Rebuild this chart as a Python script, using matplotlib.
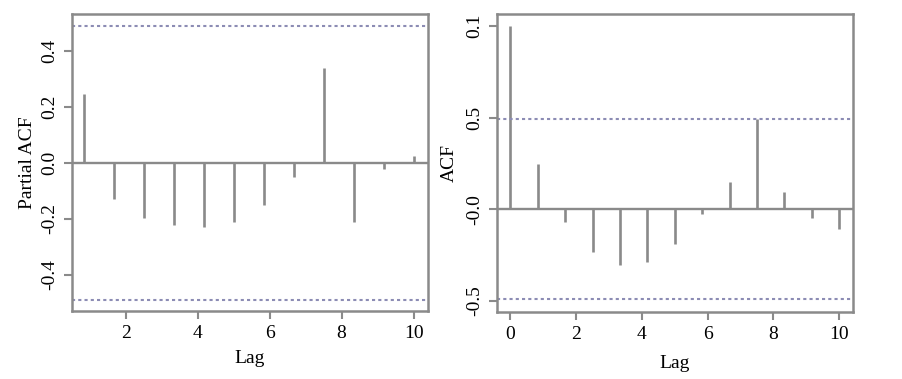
from matplotlib import pyplot as plt
import numpy as np

plt.rcParams['font.family'] = ['Liberation Serif', 'DejaVu Serif']

# lags (in years, frequency 12)
pacf_lags = np.arange(1, 13) / 1.2
pacf_vals = [0.245, -0.13, -0.198, -0.222, -0.229, -0.21,
             -0.149, -0.051, 0.338, -0.21, -0.02, 0.026]

acf_lags = np.arange(0, 13) / 1.2
acf_vals = [1.0, 0.247, -0.067, -0.234, -0.304, -0.285, -0.187,
            -0.027, 0.15, 0.49, 0.096, -0.046, -0.106]

conf = 0.49

pacf_yticks = [-0.4, -0.2, 0.0, 0.2, 0.4]
pacf_yticklabels = ['-0.4', '-0.2', '0.0', '0.2', '0.4']
acf_yticks = [-0.5, 0.0, 0.5, 1.0]
acf_yticklabels = ['-0.5', '-0.0', '0.5', '0.1']
xticks = [2, 4, 6, 8, 10]

grey = '#8a8a8a'
dot_col = '#8c8cb4'

fig = plt.figure(figsize=(9.02, 3.79), dpi=100)


def style_axes(ax):
    for s in ax.spines.values():
        s.set_color(grey)
        s.set_linewidth(1.8)
    ax.tick_params(direction='out', length=6, width=1.5, color=grey,
                   labelsize=14, pad=4)
    for lab in ax.get_yticklabels():
        lab.set_rotation(90)
        lab.set_va('center')


ax1 = fig.add_axes([0.0798, 0.1794, 0.3947, 0.7836])
ax1.vlines(pacf_lags, 0, pacf_vals, color=grey, linewidth=1.9)
ax1.axhline(0, color=grey, linewidth=1.7)
ax1.axhline(conf, color=dot_col, linestyle=(0, (1.5, 1.5)), linewidth=1.5)
ax1.axhline(-conf, color=dot_col, linestyle=(0, (1.5, 1.5)), linewidth=1.5)
ax1.set_xlim(0.51, 10.4)
ax1.set_ylim(-0.529, 0.532)
ax1.set_xticks(xticks)
ax1.set_yticks(pacf_yticks)
ax1.set_yticklabels(pacf_yticklabels)
ax1.set_xlabel('Lag', fontsize=14, labelpad=6)
ax1.set_ylabel('Partial ACF', fontsize=14, labelpad=4)
style_axes(ax1)

ax2 = fig.add_axes([0.551, 0.1776, 0.3947, 0.7847])
ax2.vlines(acf_lags, 0, acf_vals, color=grey, linewidth=1.9)
ax2.axhline(0, color=grey, linewidth=1.7)
ax2.axhline(conf, color=dot_col, linestyle=(0, (1.5, 1.5)), linewidth=1.5)
ax2.axhline(-conf, color=dot_col, linestyle=(0, (1.5, 1.5)), linewidth=1.5)
ax2.set_xlim(-0.404, 10.42)
ax2.set_ylim(-0.558, 1.063)
ax2.set_xticks([0] + xticks)
ax2.set_yticks(acf_yticks)
ax2.set_yticklabels(acf_yticklabels)
ax2.set_xlabel('Lag', fontsize=14, labelpad=9)
ax2.set_ylabel('ACF', fontsize=14, labelpad=6)
style_axes(ax2)

fig.savefig('out.png', dpi=100)
